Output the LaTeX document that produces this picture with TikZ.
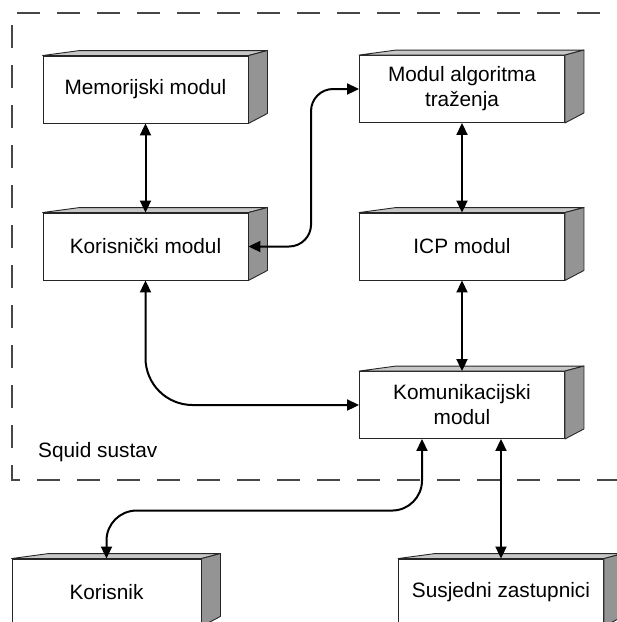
\documentclass[tikz,border=0pt]{standalone}
\usepackage{fontspec}
\setmainfont{Liberation Sans}
\usetikzlibrary{arrows.meta,calc}

\tikzset{
  modbox/.style={draw=black!85, line width=0.9pt, fill=white,
    minimum width=205pt, minimum height=67pt, inner sep=0pt, align=center,
    font=\fontsize{20.8}{25}\selectfont},
  topface/.style={draw=black!85, line width=0.9pt, fill=black!22, line join=round},
  sideface/.style={draw=black!85, line width=0.9pt, fill=black!42, line join=round},
  conn/.style={line width=2pt,
    {Triangle[length=12pt,width=11pt]}-{Triangle[length=12pt,width=11pt]}},
  frame/.style={draw=black!72, line width=1.2pt, dash pattern=on 23pt off 17pt, dash phase=15pt},
}

\begin{document}
\begin{tikzpicture}[x=1pt,y=-1pt]
  \useasboundingbox (0,0) rectangle (617,622);
  \clip (0,0) rectangle (617,622);

  % system boundary (open on the right)
  \draw[frame] (625,13) -- (12,13) -- (12,480) -- (625,480);
  \node[anchor=base west, inner sep=0pt, font=\fontsize{20.8}{25}\selectfont] (sys) at (38,457) {Squid sustav};

  % modules
  \node[modbox] (mem) at (145.5,89.5) {Memorijski modul};
  \node[modbox] (alg) at (462,89) {Modul algoritma\\tra\v{z}enja};
  \node[modbox] (kor) at (145.5,246.5) {Korisni\v{c}ki modul};
  \node[modbox] (icp) at (462,246.5) {ICP modul};
  \node[modbox] (kom) at (462,405) {Komunikacijski\\modul};
  \node[modbox, minimum width=189pt] (korisnik) at (106.5,592.5) {Korisnik};
  \node[modbox] (sus) at (501,592.5) {Susjedni zastupnici};

  % 3D extrusion of every box
  \foreach \n in {mem,alg,kor,icp,kom,korisnik,sus} {
    \filldraw[topface] (\n.north west) -- ([shift={(37pt,5pt)}]\n.north west)
      -- ([shift={(19pt,5pt)}]\n.north east) -- (\n.north east) -- cycle;
    \filldraw[sideface] (\n.north east) -- ([shift={(19pt,5pt)}]\n.north east)
      -- ([shift={(19pt,10pt)}]\n.south east) -- (\n.south east) -- cycle;
  }

  % connections
  \draw[conn] (mem.south) -- (kor.north);
  \draw[conn] (alg.south) -- (icp.north);
  \draw[conn] (icp.south) -- (kom.north);
  \draw[conn, rounded corners=22pt] (kor.east) -| ([xshift=-48pt]alg.west) -- (alg.west);
  \draw[conn, rounded corners=47pt] (kor.south) |- (kom.west);
  \draw[conn, rounded corners=30pt] ([xshift=-40pt]kom.south)
    |- ([yshift=48pt]korisnik.north) -- (korisnik.north);
  \draw[conn] (sus.north |- kom.south) -- (sus.north);
\end{tikzpicture}
\end{document}
